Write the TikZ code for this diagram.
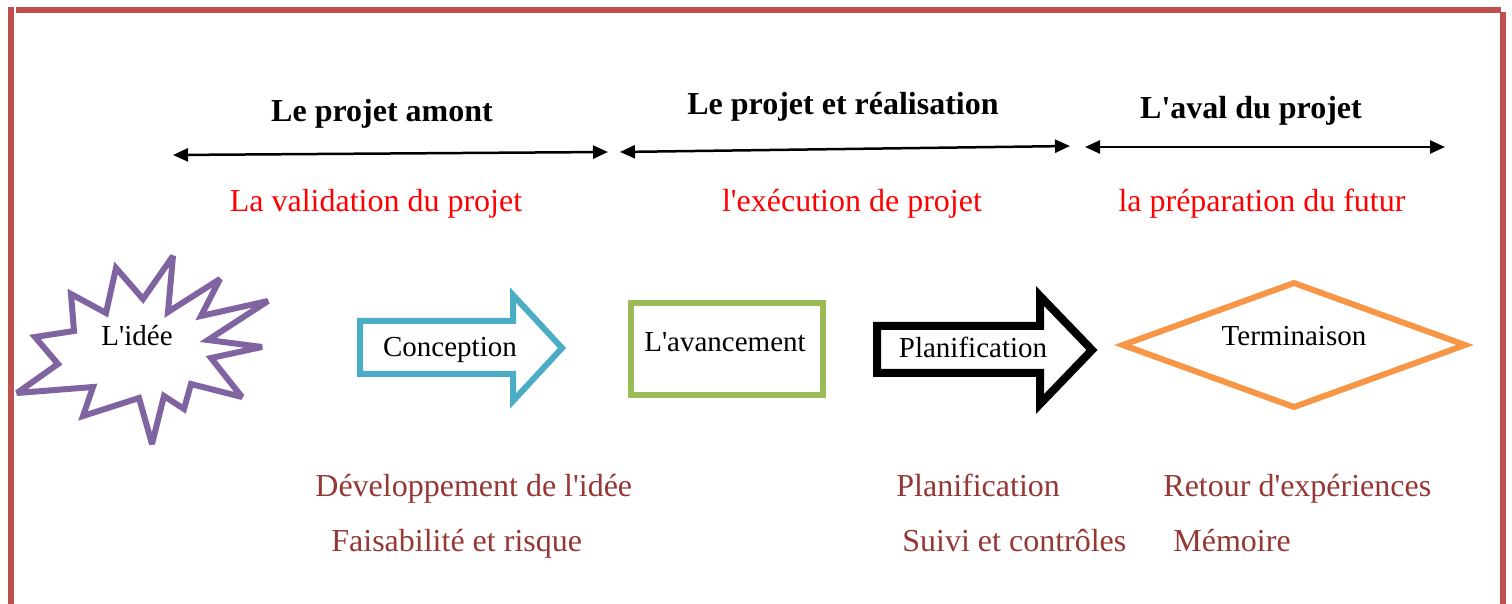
\documentclass[tikz,border=0pt]{standalone}
\usepackage{fontspec}
\setmainfont{Liberation Serif}[Ligatures=TeXOff]
\usetikzlibrary{arrows.meta}
\definecolor{framered}{HTML}{C0504D}
\definecolor{starpurple}{HTML}{8064A2}
\definecolor{arrowblue}{HTML}{4BACC6}
\definecolor{boxgreen}{HTML}{9BBB59}
\definecolor{diaorange}{HTML}{F79646}
\definecolor{itembrown}{HTML}{953734}
\begin{document}
\begin{tikzpicture}[x=0.5pt,y=-0.5pt,
  heading/.style={font=\fontsize{16}{19}\selectfont\bfseries, anchor=base, inner sep=0pt},
  subtitle/.style={font=\fontsize{16}{19}\selectfont, text=red, anchor=base, inner sep=0pt},
  item/.style={font=\fontsize{16}{19}\selectfont, text=itembrown, anchor=base west, inner sep=0pt},
  lbl/.style={font=\fontsize{14.5}{17}\selectfont, anchor=base, inner sep=0pt},
  span/.style={line width=1.25pt, {Triangle[length=7.5pt,width=6.5pt]}-{Triangle[length=7.5pt,width=6.5pt]}},
  framestroke/.style={draw=framered, line width=3pt},
  shapestroke/.style={line width=3pt, line join=miter}
]
\useasboundingbox (0,0) rectangle (1512,604);

% frame
\draw[framestroke] (11,7) -- (11,604);
\draw[framestroke] (16,10) -- (1501,10);
\draw[framestroke] (1503,12) -- (1503,604);

% headings
\node[heading] (h1) at (382,122) {Le projet amont};
\node[heading] (h2) at (843,115) {Le projet et réalisation};
\node[heading] (h3) at (1251,119) {L'aval du projet};

% span arrows
\coordinate (a1l) at (173,155);
\coordinate (a1r) at (608,152);
\coordinate (a2l) at (620,152);
\coordinate (a2r) at (1070,146);
\coordinate (a3l) at (1085,147);
\coordinate (a3r) at (1445,147);
\draw[span] (a1l) -- (a1r);
\draw[span] (a2l) -- (a2r);
\draw[span] (a3l) -- (a3r);

% subtitles
\node[subtitle] (s1) at (376,212) {La validation du projet};
\node[subtitle] (s2) at (852,212) {l'exécution de projet};
\node[subtitle] (s3) at (1262,212) {la préparation du futur};

% starburst
\draw[shapestroke, draw=starpurple, miter limit=3]
  (173,256) -- (168,312) -- (220,279) -- (201,316) -- (268,301) -- (208,340)
  -- (262,347) -- (211,358) -- (242,397) -- (191,384) -- (184,409) -- (164,396)
  -- (152,444) -- (139,398) -- (83,416) -- (93,387) -- (17,393) -- (58,364)
  -- (35,337) -- (74,331) -- (71,294) -- (106,313) -- (116,268) -- (143,299) -- cycle;
\node[lbl] (idee) at (137,346) {L'idée};

% Conception arrow
\draw[shapestroke, draw=arrowblue]
  (360,321) -- (513,321) -- (513,295) -- (562,348) -- (513,401) -- (513,374) -- (360,374) -- cycle;
\node[lbl] (conc) at (450,357) {Conception};

% L'avancement box
\draw[shapestroke, draw=boxgreen] (631,303) rectangle (823,395);
\node[lbl] (avanc) at (725,352) {L'avancement};

% Planification arrow
\draw[line width=4pt, line join=miter, draw=black]
  (877,326) -- (1040,326) -- (1040,296) -- (1092,350) -- (1040,404) -- (1040,373) -- (877,373) -- cycle;
\node[lbl] (plan) at (973,358) {Planification};

% Terminaison diamond
\draw[shapestroke, draw=diaorange]
  (1123,345) -- (1294,283) -- (1465,345) -- (1294,407) -- cycle;
\node[lbl] (term) at (1294,346) {Terminaison};

% items
\node[item] (i1) at (315,496) {Développement de l'idée};
\node[item] (i2) at (331,552) {Faisabilité et risque};
\node[item] (i3) at (896,496) {Planification};
\node[item] (i4) at (902,552) {Suivi et contrôles};
\node[item] (i5) at (1163,496) {Retour d'expériences};
\node[item] (i6) at (1173,552) {Mémoire};
\end{tikzpicture}
\end{document}
